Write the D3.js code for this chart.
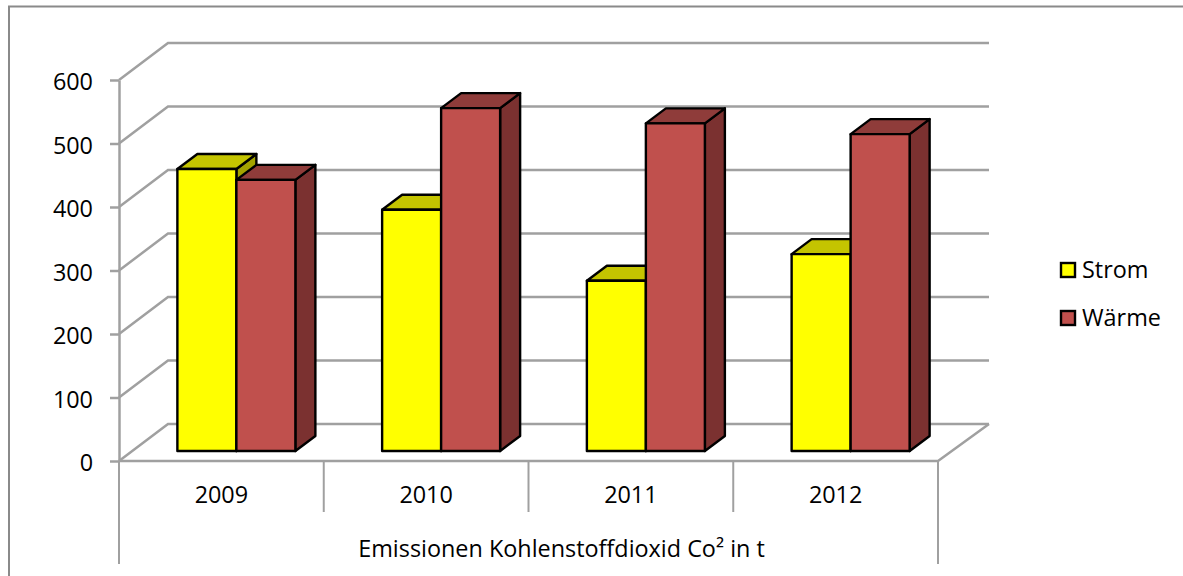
<!DOCTYPE html>
<html>
<head>
<meta charset="utf-8">
<script src="https://cdn.jsdelivr.net/npm/d3@7"></script>
<style>
  html, body { margin: 0; background: #fff; }
  svg { display: block; }
  text { font-family: "Open Sans", sans-serif; fill: #000; }
  .grid { fill: none; stroke: #a0a0a0; stroke-width: 2.5; }
  .edge { stroke: #000; stroke-width: 2.4; stroke-linejoin: round; }
</style>
</head>
<body>
<svg width="1183" height="576"></svg>
<script>
const years  = ["2009", "2010", "2011", "2012"];
const strom  = [444, 380, 268, 310];
const waerme = [427, 540, 516, 499];
const yTicks = [0, 100, 200, 300, 400, 500, 600];
const seriesNames = ["Strom", "Wärme"];
const axisTitle = "Emissionen Kohlenstoffdioxid Co² in t";

const fills = {
  Strom: { front: "#ffff00", top: "#c4c400", side: "#a3a300" },
  "Wärme": { front: "#c0504d", top: "#8f3c3a", side: "#7b3130" }
};

const svg = d3.select("svg");
const fontSize = 23.4;

// oblique offset of the back wall, and of the bars inside the box
const wall = { dx: 49, dy: -37 };
const bar  = { dx: 20, dy: -15 };
const barShift = { dx: 13.5, dy: -10 };

const x = d3.scaleBand().domain(years).range([119, 938]);
const y = d3.scaleLinear().domain([0, 600]).range([461, 80]);
const inner = d3.scaleBand().domain(seriesNames)
  .range([0, 118]);
const barOffset = (x.bandwidth() - inner.range()[1]) / 2 + barShift.dx + 1.5;

// outer frame, only top and left are visible in the picture
svg.append("path")
  .attr("d", "M9,576V6.5H1183")
  .attr("fill", "none")
  .attr("stroke", "#8a8a8a")
  .attr("stroke-width", 2);

const grid = svg.append("g");

// back wall lines with their diagonal on the side wall
grid.selectAll("path.wall")
  .data(yTicks)
  .enter()
  .append("path")
  .attr("class", "grid wall")
  .attr("d", d => {
    const px = y(d);
    return `M119,${px}L${119 + wall.dx},${px + wall.dy}H${938 + wall.dx + 2}`;
  });

// floor
grid.append("path")
  .attr("class", "grid")
  .attr("d", `M119,${y(0)}H938L${938 + wall.dx + 2},${y(0) + wall.dy}`);

// value axis
const yAxis = svg.append("g")
  .attr("transform", "translate(119,0)")
  .call(d3.axisLeft(y).tickValues(yTicks).tickSize(9).tickPadding(17).tickSizeOuter(0));
yAxis.select(".domain").attr("stroke", "#a0a0a0").attr("stroke-width", 2.5);
yAxis.selectAll("line").attr("stroke", "#a0a0a0").attr("stroke-width", 2.5);
yAxis.selectAll("text")
  .style("font-family", '"Open Sans", sans-serif')
  .attr("font-size", fontSize)
  .attr("dy", "0.42em");
// the tickPadding is measured from the tick end
yAxis.selectAll("text").attr("x", -26);

// category separators
const seps = years.map(d => x(d)).concat([x.range()[1]]);
svg.selectAll("line.sep")
  .data(seps)
  .enter()
  .append("line")
  .attr("class", "sep")
  .attr("x1", d => d)
  .attr("x2", d => d)
  .attr("y1", y(0))
  .attr("y2", (d, i) => (i === 0 || i === seps.length - 1) ? 564 : 512)
  .attr("stroke", "#a0a0a0")
  .attr("stroke-width", 2);

svg.selectAll("text.year")
  .data(years)
  .enter()
  .append("text")
  .attr("class", "year")
  .attr("x", d => x(d) + x.bandwidth() / 2)
  .attr("y", 503)
  .attr("text-anchor", "middle")
  .attr("font-size", fontSize)
  .text(d => d);

svg.append("text")
  .attr("x", 561.5)
  .attr("y", 557)
  .attr("text-anchor", "middle")
  .attr("font-size", fontSize)
  .text(axisTitle);

// bars, Strom first so that Wärme overlaps its side
const rows = years.flatMap((year, i) => [
  { year: year, name: "Strom", value: strom[i] },
  { year: year, name: "Wärme", value: waerme[i] }
]);

const bars = svg.selectAll("g.bar")
  .data(rows)
  .enter()
  .append("g")
  .attr("class", "bar")
  .each(function(d) {
    const g = d3.select(this);
    const x0 = x(d.year) + barOffset + inner(d.name);
    const x1 = x0 + inner.bandwidth();
    const y0 = y(d.value) + barShift.dy;
    const y1 = y(0) + barShift.dy;

    g.append("path")
      .attr("class", "edge")
      .attr("fill", fills[d.name].side)
      .attr("d", `M${x1},${y0}L${x1 + bar.dx},${y0 + bar.dy}V${y1 + bar.dy}L${x1},${y1}Z`);
    g.append("path")
      .attr("class", "edge")
      .attr("fill", fills[d.name].top)
      .attr("d", `M${x0},${y0}L${x0 + bar.dx},${y0 + bar.dy}H${x1 + bar.dx}L${x1},${y0}Z`);
    g.append("rect")
      .attr("class", "edge")
      .attr("x", x0)
      .attr("y", y0)
      .attr("width", inner.bandwidth())
      .attr("height", y1 - y0)
      .attr("fill", fills[d.name].front);
  });

// legend
const legendY = d3.scalePoint().domain(seriesNames).range([270, 318]);
const legend = svg.selectAll("g.legend")
  .data(seriesNames)
  .enter()
  .append("g")
  .attr("class", "legend")
  .attr("transform", d => `translate(1060,${legendY(d)})`);

legend.append("rect")
  .attr("x", 1)
  .attr("y", -7)
  .attr("width", 14)
  .attr("height", 14)
  .attr("fill", d => fills[d].front)
  .attr("stroke", "#000")
  .attr("stroke-width", 2.4);

legend.append("text")
  .attr("x", 22)
  .attr("y", 8)
  .attr("font-size", fontSize)
  .text(d => d);
</script>
</body>
</html>
